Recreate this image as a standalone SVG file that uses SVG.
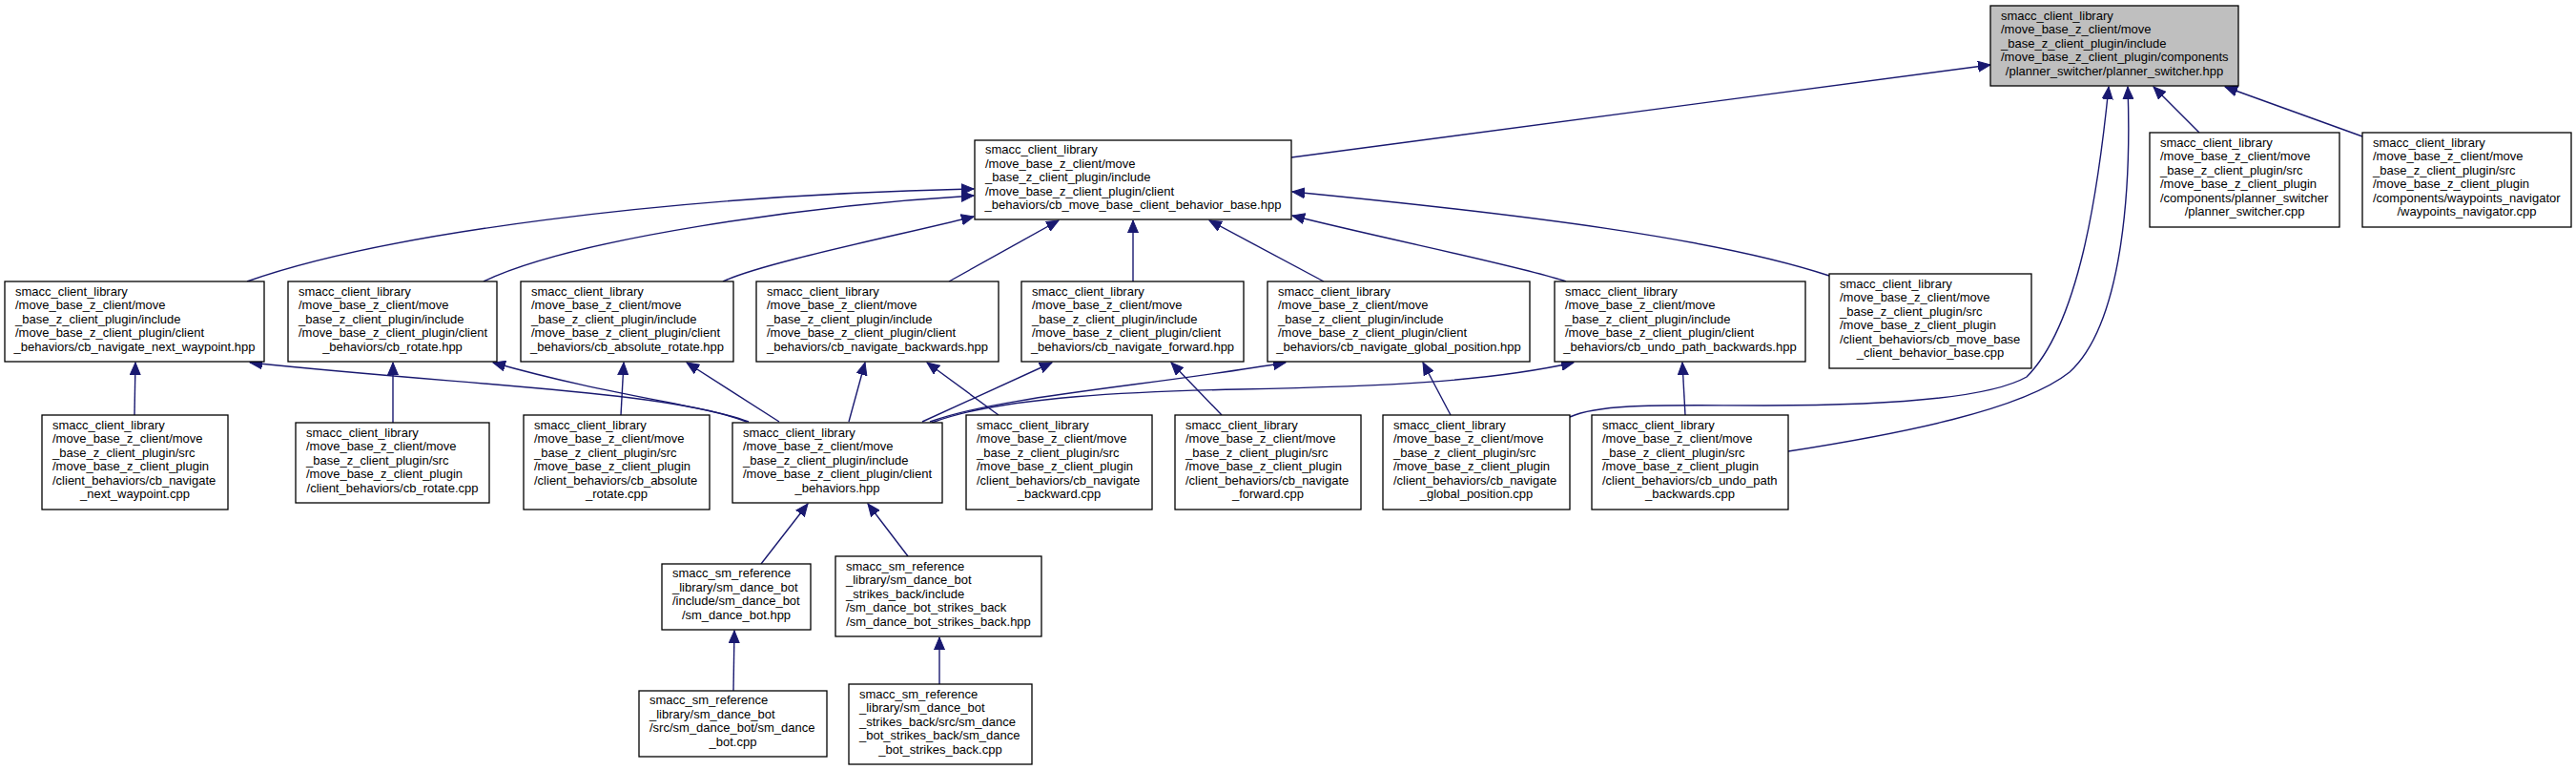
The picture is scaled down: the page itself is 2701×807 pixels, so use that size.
<svg xmlns="http://www.w3.org/2000/svg" width="2701" height="807" viewBox="0 0 2701 807">
<style>
.n rect{fill:#fff;stroke:#000;stroke-width:1.3}
.n.root rect{fill:#bfbfbf}
text{font-family:"Liberation Sans",Arial,sans-serif;font-size:13px;fill:#000}
.c{text-anchor:middle}
.e path{fill:none;stroke:#191970;stroke-width:1.4;marker-end:url(#ah)}
</style>
<defs>
<marker id="ah" markerWidth="14" markerHeight="12" refX="13" refY="6" orient="auto" markerUnits="userSpaceOnUse">
<path d="M0,0.5 L13,6 L0,11.5 z" fill="#191970" stroke="#191970" stroke-width="1"/>
</marker>
</defs>
<rect width="2701" height="807" fill="#fff"/>
<g class="e" id="edges">
<path d="M1354,165 L2087,68"/>
<path d="M1918,289 C1800,250 1600,225 1355,201"/>
<path d="M1642,295 C1600,280 1450,250 1355,226"/>
<path d="M1388,295 L1268,231"/>
<path d="M1188,295 L1188,231"/>
<path d="M995,295 L1110,231"/>
<path d="M758,295 C800,275 950,245 1021,227"/>
<path d="M507,295 C600,250 850,215 1021,205"/>
<path d="M259,295 C400,245 700,205 1021,198"/>
<path d="M2306,139 L2258,91"/>
<path d="M2477,143 L2333,91"/>
<path d="M1646,437 C1680,422 1750,425 1850,425 C2000,425 2090,415 2125,395 C2180,340 2200,200 2211,91"/>
<path d="M1875,473 C1990,455 2120,430 2170,390 C2225,340 2235,200 2231,91"/>
<path d="M141,435 L142,380"/>
<path d="M412,443 L412,380"/>
<path d="M651,435 L654,380"/>
<path d="M783,442 C700,410 500,405 262,380"/>
<path d="M785,442 C740,425 640,415 517,380"/>
<path d="M817,442 L720,380"/>
<path d="M890,442 L907,380"/>
<path d="M967,442 L1103,380"/>
<path d="M975,442 C1050,415 1200,405 1348,380"/>
<path d="M977,443 C1050,415 1200,410 1300,408 C1450,405 1560,400 1650,380"/>
<path d="M1047,435 L972,380"/>
<path d="M1281,435 L1228,380"/>
<path d="M1521,435 L1492,380"/>
<path d="M1767,435 L1764,380"/>
<path d="M798,591 L847,528"/>
<path d="M952,583 L910,528"/>
<path d="M769,724 L770,661"/>
<path d="M985,717 L985,668"/>
</g>

<g class="n root" id="n0">
<rect x="2087" y="6" width="260" height="84"/>
<text x="2098" y="20.5">smacc_client_library</text>
<text x="2098" y="35">/move_base_z_client/move</text>
<text x="2098" y="49.5">_base_z_client_plugin/include</text>
<text x="2098" y="64">/move_base_z_client_plugin/components</text>
<text class="c" x="2217" y="78.5">/planner_switcher/planner_switcher.hpp</text>
</g>

<g class="n" id="n1">
<rect x="1022" y="147" width="332" height="83"/>
<text x="1033" y="161">smacc_client_library</text>
<text x="1033" y="175.5">/move_base_z_client/move</text>
<text x="1033" y="190">_base_z_client_plugin/include</text>
<text x="1033" y="204.5">/move_base_z_client_plugin/client</text>
<text class="c" x="1188" y="219">_behaviors/cb_move_base_client_behavior_base.hpp</text>
</g>

<g class="n" id="n2">
<rect x="5" y="295" width="272" height="84"/>
<text x="16" y="309.5">smacc_client_library</text>
<text x="16" y="324">/move_base_z_client/move</text>
<text x="16" y="338.5">_base_z_client_plugin/include</text>
<text x="16" y="353">/move_base_z_client_plugin/client</text>
<text class="c" x="141" y="367.5">_behaviors/cb_navigate_next_waypoint.hpp</text>
</g>

<g class="n" id="n3">
<rect x="302" y="295" width="219" height="84"/>
<text x="313" y="309.5">smacc_client_library</text>
<text x="313" y="324">/move_base_z_client/move</text>
<text x="313" y="338.5">_base_z_client_plugin/include</text>
<text x="313" y="353">/move_base_z_client_plugin/client</text>
<text class="c" x="411.5" y="367.5">_behaviors/cb_rotate.hpp</text>
</g>

<g class="n" id="n4">
<rect x="546" y="295" width="223" height="84"/>
<text x="557" y="309.5">smacc_client_library</text>
<text x="557" y="324">/move_base_z_client/move</text>
<text x="557" y="338.5">_base_z_client_plugin/include</text>
<text x="557" y="353">/move_base_z_client_plugin/client</text>
<text class="c" x="657.5" y="367.5">_behaviors/cb_absolute_rotate.hpp</text>
</g>

<g class="n" id="n5">
<rect x="793" y="295" width="254" height="84"/>
<text x="804" y="309.5">smacc_client_library</text>
<text x="804" y="324">/move_base_z_client/move</text>
<text x="804" y="338.5">_base_z_client_plugin/include</text>
<text x="804" y="353">/move_base_z_client_plugin/client</text>
<text class="c" x="920" y="367.5">_behaviors/cb_navigate_backwards.hpp</text>
</g>

<g class="n" id="n6">
<rect x="1071" y="295" width="233" height="84"/>
<text x="1082" y="309.5">smacc_client_library</text>
<text x="1082" y="324">/move_base_z_client/move</text>
<text x="1082" y="338.5">_base_z_client_plugin/include</text>
<text x="1082" y="353">/move_base_z_client_plugin/client</text>
<text class="c" x="1187.5" y="367.5">_behaviors/cb_navigate_forward.hpp</text>
</g>

<g class="n" id="n7">
<rect x="1329" y="295" width="275" height="84"/>
<text x="1340" y="309.5">smacc_client_library</text>
<text x="1340" y="324">/move_base_z_client/move</text>
<text x="1340" y="338.5">_base_z_client_plugin/include</text>
<text x="1340" y="353">/move_base_z_client_plugin/client</text>
<text class="c" x="1466.5" y="367.5">_behaviors/cb_navigate_global_position.hpp</text>
</g>

<g class="n" id="n8">
<rect x="1630" y="295" width="263" height="84"/>
<text x="1641" y="309.5">smacc_client_library</text>
<text x="1641" y="324">/move_base_z_client/move</text>
<text x="1641" y="338.5">_base_z_client_plugin/include</text>
<text x="1641" y="353">/move_base_z_client_plugin/client</text>
<text class="c" x="1761.5" y="367.5">_behaviors/cb_undo_path_backwards.hpp</text>
</g>

<g class="n" id="n9">
<rect x="1918" y="287" width="212" height="99"/>
<text x="1929" y="301.8">smacc_client_library</text>
<text x="1929" y="316.3">/move_base_z_client/move</text>
<text x="1929" y="330.8">_base_z_client_plugin/src</text>
<text x="1929" y="345.3">/move_base_z_client_plugin</text>
<text x="1929" y="359.8">/client_behaviors/cb_move_base</text>
<text class="c" x="2024" y="374.3">_client_behavior_base.cpp</text>
</g>

<g class="n" id="n10">
<rect x="2254" y="139" width="199" height="99"/>
<text x="2265" y="153.8">smacc_client_library</text>
<text x="2265" y="168.3">/move_base_z_client/move</text>
<text x="2265" y="182.8">_base_z_client_plugin/src</text>
<text x="2265" y="197.3">/move_base_z_client_plugin</text>
<text x="2265" y="211.8">/components/planner_switcher</text>
<text class="c" x="2353.5" y="226.3">/planner_switcher.cpp</text>
</g>

<g class="n" id="n11">
<rect x="2477" y="139" width="219" height="99"/>
<text x="2488" y="153.8">smacc_client_library</text>
<text x="2488" y="168.3">/move_base_z_client/move</text>
<text x="2488" y="182.8">_base_z_client_plugin/src</text>
<text x="2488" y="197.3">/move_base_z_client_plugin</text>
<text x="2488" y="211.8">/components/waypoints_navigator</text>
<text class="c" x="2586.5" y="226.3">/waypoints_navigator.cpp</text>
</g>

<g class="n" id="n12">
<rect x="44" y="435" width="195" height="99"/>
<text x="55" y="449.8">smacc_client_library</text>
<text x="55" y="464.3">/move_base_z_client/move</text>
<text x="55" y="478.8">_base_z_client_plugin/src</text>
<text x="55" y="493.3">/move_base_z_client_plugin</text>
<text x="55" y="507.8">/client_behaviors/cb_navigate</text>
<text class="c" x="141.5" y="522.3">_next_waypoint.cpp</text>
</g>

<g class="n" id="n13">
<rect x="310" y="443" width="203" height="84"/>
<text x="321" y="457.5">smacc_client_library</text>
<text x="321" y="472">/move_base_z_client/move</text>
<text x="321" y="486.5">_base_z_client_plugin/src</text>
<text x="321" y="501">/move_base_z_client_plugin</text>
<text class="c" x="411.5" y="515.5">/client_behaviors/cb_rotate.cpp</text>
</g>

<g class="n" id="n14">
<rect x="549" y="435" width="195" height="99"/>
<text x="560" y="449.8">smacc_client_library</text>
<text x="560" y="464.3">/move_base_z_client/move</text>
<text x="560" y="478.8">_base_z_client_plugin/src</text>
<text x="560" y="493.3">/move_base_z_client_plugin</text>
<text x="560" y="507.8">/client_behaviors/cb_absolute</text>
<text class="c" x="646.5" y="522.3">_rotate.cpp</text>
</g>

<g class="n" id="n15">
<rect x="768" y="443" width="220" height="84"/>
<text x="779" y="457.5">smacc_client_library</text>
<text x="779" y="472">/move_base_z_client/move</text>
<text x="779" y="486.5">_base_z_client_plugin/include</text>
<text x="779" y="501">/move_base_z_client_plugin/client</text>
<text class="c" x="878" y="515.5">_behaviors.hpp</text>
</g>

<g class="n" id="n16">
<rect x="1013" y="435" width="195" height="99"/>
<text x="1024" y="449.8">smacc_client_library</text>
<text x="1024" y="464.3">/move_base_z_client/move</text>
<text x="1024" y="478.8">_base_z_client_plugin/src</text>
<text x="1024" y="493.3">/move_base_z_client_plugin</text>
<text x="1024" y="507.8">/client_behaviors/cb_navigate</text>
<text class="c" x="1110.5" y="522.3">_backward.cpp</text>
</g>

<g class="n" id="n17">
<rect x="1232" y="435" width="195" height="99"/>
<text x="1243" y="449.8">smacc_client_library</text>
<text x="1243" y="464.3">/move_base_z_client/move</text>
<text x="1243" y="478.8">_base_z_client_plugin/src</text>
<text x="1243" y="493.3">/move_base_z_client_plugin</text>
<text x="1243" y="507.8">/client_behaviors/cb_navigate</text>
<text class="c" x="1329.5" y="522.3">_forward.cpp</text>
</g>

<g class="n" id="n18">
<rect x="1450" y="435" width="196" height="99"/>
<text x="1461" y="449.8">smacc_client_library</text>
<text x="1461" y="464.3">/move_base_z_client/move</text>
<text x="1461" y="478.8">_base_z_client_plugin/src</text>
<text x="1461" y="493.3">/move_base_z_client_plugin</text>
<text x="1461" y="507.8">/client_behaviors/cb_navigate</text>
<text class="c" x="1548" y="522.3">_global_position.cpp</text>
</g>

<g class="n" id="n19">
<rect x="1669" y="435" width="206" height="99"/>
<text x="1680" y="449.8">smacc_client_library</text>
<text x="1680" y="464.3">/move_base_z_client/move</text>
<text x="1680" y="478.8">_base_z_client_plugin/src</text>
<text x="1680" y="493.3">/move_base_z_client_plugin</text>
<text x="1680" y="507.8">/client_behaviors/cb_undo_path</text>
<text class="c" x="1772" y="522.3">_backwards.cpp</text>
</g>

<g class="n" id="n20">
<rect x="694" y="591" width="156" height="69"/>
<text x="705" y="605.3">smacc_sm_reference</text>
<text x="705" y="619.8">_library/sm_dance_bot</text>
<text x="705" y="634.3">/include/sm_dance_bot</text>
<text class="c" x="772" y="648.8">/sm_dance_bot.hpp</text>
</g>

<g class="n" id="n21">
<rect x="876" y="583" width="216" height="84"/>
<text x="887" y="597.5">smacc_sm_reference</text>
<text x="887" y="612">_library/sm_dance_bot</text>
<text x="887" y="626.5">_strikes_back/include</text>
<text x="887" y="641">/sm_dance_bot_strikes_back</text>
<text class="c" x="984" y="655.5">/sm_dance_bot_strikes_back.hpp</text>
</g>

<g class="n" id="n22">
<rect x="670" y="724" width="197" height="69"/>
<text x="681" y="738.3">smacc_sm_reference</text>
<text x="681" y="752.8">_library/sm_dance_bot</text>
<text x="681" y="767.3">/src/sm_dance_bot/sm_dance</text>
<text class="c" x="768.5" y="781.8">_bot.cpp</text>
</g>

<g class="n" id="n23">
<rect x="890" y="717" width="192" height="84"/>
<text x="901" y="731.5">smacc_sm_reference</text>
<text x="901" y="746">_library/sm_dance_bot</text>
<text x="901" y="760.5">_strikes_back/src/sm_dance</text>
<text x="901" y="775">_bot_strikes_back/sm_dance</text>
<text class="c" x="986" y="789.5">_bot_strikes_back.cpp</text>
</g>
</svg>
